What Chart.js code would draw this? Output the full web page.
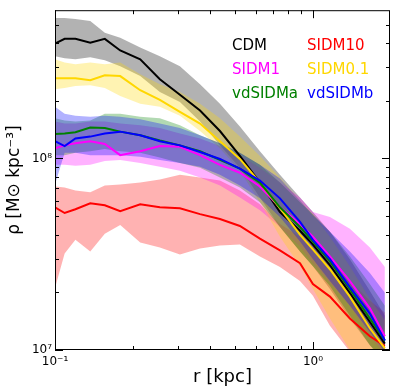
<!DOCTYPE html>
<html>
<head>
<meta charset="utf-8">
<script src="https://cdn.jsdelivr.net/npm/chart.js@4.4.1/dist/chart.umd.min.js"></script>
<style>
  html, body { margin: 0; padding: 0; background: #fff; }
</style>
</head>
<body>
<canvas id="profileChart" width="395" height="391"></canvas>
<script>
// radii (kpc), shared by every profile
const radii = [0.10, 0.109, 0.12, 0.137, 0.156, 0.179, 0.214, 0.255, 0.305, 0.365,
  0.436, 0.521, 0.623, 0.745, 0.891, 1.0, 1.164, 1.391, 1.663, 1.901];

// density profiles (Msun / kpc^3): median, upper and lower envelope
const cdmRho = [3.98e8, 4.21e8, 4.21e8, 4.02e8, 4.21e8, 3.66e8, 3.29e8, 2.59e8, 2.15e8, 1.78e8, 1.39e8, 1.03e8, 7.48e7, 5.25e7, 4.19e7, 3.55e7, 2.77e7, 1.98e7, 1.40e7, 1.08e7];
const cdmHi = [5.41e8, 5.41e8, 5.34e8, 5.22e8, 4.53e8, 4.26e8, 3.79e8, 3.41e8, 3.03e8, 2.44e8, 1.93e8, 1.47e8, 1.09e8, 8.22e7, 6.26e7, 5.25e7, 4.14e7, 2.98e7, 2.03e7, 1.51e7];
const cdmLo = [3.41e8, 3.33e8, 3.29e8, 3.37e8, 3.25e8, 3.03e8, 2.69e8, 2.22e8, 1.97e8, 1.56e8, 1.17e8, 8.94e7, 6.26e7, 4.39e7, 3.27e7, 2.74e7, 2.08e7, 1.46e7, 1.06e7, 8.9e6];

const sidm10Rho = [5.56e7, 5.19e7, 5.43e7, 5.83e7, 5.70e7, 5.31e7, 5.77e7, 5.56e7, 5.49e7, 5.12e7, 4.83e7, 4.44e7, 3.81e7, 3.31e7, 2.84e7, 2.21e7, 1.90e7, 1.46e7, 1.18e7, 1.05e7];
const sidm10Hi = [7.14e7, 7.05e7, 6.81e7, 6.65e7, 7.22e7, 7.31e7, 7.48e7, 7.76e7, 8.22e7, 7.94e7, 7.66e7, 6.81e7, 5.77e7, 4.55e7, 3.90e7, 3.47e7, 2.98e7, 2.29e7, 1.81e7, 1.57e7];
const sidm10Lo = [2.11e7, 3.19e7, 3.76e7, 3.27e7, 4.04e7, 4.49e7, 3.64e7, 3.43e7, 3.15e7, 3.39e7, 3.51e7, 3.55e7, 3.08e7, 2.71e7, 2.29e7, 1.92e7, 1.34e7, 9.8e6, 7.5e6, 6.3e6];

const sidm1Rho = [1.13e8, 1.17e8, 1.20e8, 1.23e8, 1.19e8, 1.04e8, 1.09e8, 1.16e8, 1.15e8, 1.04e8, 9.26e7, 8.42e7, 7.14e7, 5.56e7, 4.55e7, 3.90e7, 3.08e7, 2.29e7, 1.65e7, 1.18e7];
const sidm1Hi = [1.56e8, 1.52e8, 1.52e8, 1.56e8, 1.56e8, 1.52e8, 1.49e8, 1.44e8, 1.35e8, 1.27e8, 1.16e8, 1.04e8, 8.94e7, 7.48e7, 6.26e7, 5.25e7, 4.94e7, 4.29e7, 3.43e7, 2.71e7];
const sidm1Lo = [9.26e7, 9.26e7, 9.15e7, 9.26e7, 9.71e7, 9.82e7, 9.48e7, 9.04e7, 8.63e7, 7.94e7, 7.22e7, 6.26e7, 5.37e7, 4.39e7, 3.47e7, 2.84e7, 2.24e7, 1.70e7, 1.19e7, 9.4e6];

const sidm01Rho = [2.62e8, 2.62e8, 2.62e8, 2.56e8, 2.72e8, 2.69e8, 2.27e8, 2.02e8, 1.75e8, 1.52e8, 1.23e8, 9.94e7, 7.48e7, 5.50e7, 4.00e7, 3.35e7, 2.64e7, 1.90e7, 1.30e7, 1.02e7];
const sidm01Hi = [3.29e8, 3.17e8, 3.10e8, 3.17e8, 3.10e8, 3.17e8, 2.75e8, 2.44e8, 2.22e8, 1.93e8, 1.62e8, 1.30e8, 1.03e8, 7.94e7, 6.04e7, 5.12e7, 3.90e7, 2.74e7, 1.85e7, 1.43e7];
const sidm01Lo = [2.30e8, 2.33e8, 2.39e8, 2.41e8, 2.33e8, 2.12e8, 1.93e8, 1.86e8, 1.67e8, 1.39e8, 1.13e8, 8.63e7, 5.90e7, 3.90e7, 2.74e7, 2.08e7, 1.46e7, 1.00e7, 7.0e6, 5.5e6];

const vdaRho = [1.34e8, 1.35e8, 1.37e8, 1.45e8, 1.44e8, 1.38e8, 1.32e8, 1.24e8, 1.17e8, 1.09e8, 9.82e7, 8.84e7, 7.48e7, 5.56e7, 4.39e7, 3.68e7, 2.90e7, 2.08e7, 1.46e7, 1.12e7];
const vdaHi = [1.62e8, 1.58e8, 1.56e8, 1.58e8, 1.71e8, 1.71e8, 1.65e8, 1.62e8, 1.49e8, 1.32e8, 1.20e8, 1.07e8, 9.26e7, 7.48e7, 5.90e7, 5.12e7, 4.14e7, 3.08e7, 2.21e7, 1.70e7];
const vdaLo = [1.04e8, 1.04e8, 1.07e8, 1.09e8, 1.12e8, 1.09e8, 1.07e8, 1.01e8, 9.48e7, 8.94e7, 7.94e7, 7.05e7, 5.90e7, 4.39e7, 3.27e7, 2.74e7, 2.16e7, 1.51e7, 1.06e7, 8.4e6];

const vdbRho = [1.23e8, 1.16e8, 1.27e8, 1.30e8, 1.35e8, 1.38e8, 1.32e8, 1.23e8, 1.17e8, 1.08e8, 9.94e7, 8.84e7, 7.66e7, 6.19e7, 4.66e7, 3.76e7, 2.98e7, 2.13e7, 1.55e7, 1.12e7];
const vdbHi = [1.86e8, 1.71e8, 1.67e8, 1.65e8, 1.67e8, 1.65e8, 1.60e8, 1.52e8, 1.44e8, 1.32e8, 1.20e8, 1.07e8, 9.26e7, 7.85e7, 6.04e7, 5.05e7, 4.14e7, 3.27e7, 2.52e7, 1.99e7];
const vdbLo = [7.31e7, 1.07e8, 1.07e8, 1.04e8, 1.04e8, 1.04e8, 1.02e8, 9.82e7, 9.48e7, 9.04e7, 8.22e7, 7.22e7, 6.19e7, 4.94e7, 3.68e7, 2.98e7, 2.29e7, 1.70e7, 1.24e7, 9.8e6];

const seriesNames = ['CDM', 'SIDM10', 'SIDM1', 'SIDM0.1', 'vdSIDMa', 'vdSIDMb'];
const seriesColors = ['#000000', '#ff0000', '#ff00ff', '#ffd700', '#008000', '#0000ff'];
const seriesRho = [cdmRho, sidm10Rho, sidm1Rho, sidm01Rho, vdaRho, vdbRho];
const seriesHi = [cdmHi, sidm10Hi, sidm1Hi, sidm01Hi, vdaHi, vdbHi];
const seriesLo = [cdmLo, sidm10Lo, sidm1Lo, sidm01Lo, vdaLo, vdbLo];

// axis ticks
const xMajorTicks = [0.1, 1];
const xMinorTicks = [0.2, 0.3, 0.4, 0.5, 0.6, 0.7, 0.8, 0.9];
const yMajorTicks = [1e7, 1e8];
const yMinorTicks = [2e7, 3e7, 4e7, 5e7, 6e7, 7e7, 8e7, 9e7, 2e8, 3e8, 4e8, 5e8];

Chart.defaults.font.family = '"DejaVu Sans", sans-serif';
Chart.defaults.color = '#000';

const SUP = { '-': '⁻', '0': '⁰', '1': '¹', '2': '²', '3': '³', '4': '⁴', '5': '⁵', '6': '⁶', '7': '⁷', '8': '⁸', '9': '⁹' };

// 10^n labels only at whole decades
function decadeLabel(value) {
  const e = Math.log10(value);
  if (Math.abs(e - Math.round(e)) > 1e-6) return '';
  return '10' + String(Math.round(e)).split('').map(c => SUP[c]).join('');
}

function withAlpha(hex, a) {
  const n = parseInt(hex.slice(1), 16);
  return `rgba(${(n >> 16) & 255}, ${(n >> 8) & 255}, ${n & 255}, ${a})`;
}

const toPoints = arr => arr.map((v, i) => ({ x: radii[i], y: v }));

// band (hi filled to lo) + median line for every model
const datasets = [];
seriesNames.forEach((name, i) => {
  const band = withAlpha(seriesColors[i], 0.3);
  datasets.push({
    label: name + ' hi', data: toPoints(seriesHi[i]),
    borderWidth: 0, pointRadius: 0, backgroundColor: band,
    fill: '+1', order: 10 - i
  });
  datasets.push({
    label: name + ' lo', data: toPoints(seriesLo[i]),
    borderWidth: 0, pointRadius: 0, fill: false, order: 10 - i
  });
  datasets.push({
    label: name, data: toPoints(seriesRho[i]),
    borderColor: seriesColors[i], borderWidth: 2, pointRadius: 0,
    fill: false, order: -i
  });
});

// inward ticks on all four sides plus the frame
const frameTicks = {
  id: 'frameTicks',
  afterDraw(chart) {
    const { ctx, chartArea: a, scales: { x, y } } = chart;
    ctx.save();
    ctx.strokeStyle = '#000';
    ctx.lineWidth = 1;
    const seg = (x1, y1, x2, y2) => {
      ctx.beginPath(); ctx.moveTo(x1, y1); ctx.lineTo(x2, y2); ctx.stroke();
    };
    const xt = (v, len) => {
      const px = Math.round(x.getPixelForValue(v)) + 0.5;
      seg(px, a.bottom, px, a.bottom - len);
      seg(px, a.top, px, a.top + len);
    };
    const yt = (v, len) => {
      const py = Math.round(y.getPixelForValue(v)) + 0.5;
      seg(a.left, py, a.left + len, py);
      seg(a.right, py, a.right - len, py);
    };
    xMajorTicks.forEach(v => xt(v, 8));
    xMinorTicks.forEach(v => xt(v, 4));
    yMajorTicks.forEach(v => yt(v, 8));
    yMinorTicks.forEach(v => yt(v, 4));
    ctx.strokeRect(a.left + 0.5, a.top + 0.5, a.right - a.left - 1, a.bottom - a.top - 1);
    ctx.restore();
  }
};

// text-only legend, two columns
const textLegend = {
  id: 'textLegend',
  afterDraw(chart) {
    const { ctx, chartArea: a } = chart;
    ctx.save();
    ctx.font = '15px "DejaVu Sans"';
    ctx.textBaseline = 'alphabetic';
    seriesNames.forEach((name, i) => {
      ctx.fillStyle = seriesColors[i];
      ctx.fillText(name, a.left + 177 + (i % 2) * 75, a.top + 40 + Math.floor(i / 2) * 24);
    });
    ctx.restore();
  }
};

new Chart(document.getElementById('profileChart'), {
  type: 'line',
  data: { datasets },
  plugins: [frameTicks, textLegend],
  options: {
    responsive: false,
    animation: false,
    events: [],
    layout: { padding: { top: 5, right: 5, left: 0, bottom: 0 } },
    plugins: { legend: { display: false }, tooltip: { enabled: false } },
    elements: { line: { tension: 0 } },
    scales: {
      x: {
        type: 'logarithmic', min: 0.1, max: 1.99,
        grid: { display: false, drawTicks: false },
        border: { display: false },
        ticks: { autoSkip: false, maxRotation: 0, padding: 5, font: { size: 12 }, callback: decadeLabel },
        title: { display: true, text: 'r [kpc]', font: { size: 18 }, padding: { top: 0, bottom: 3 } },
        afterFit: s => { s.height = 41; }
      },
      y: {
        type: 'logarithmic', min: 1e7, max: 5.94e8,
        grid: { display: false, drawTicks: false },
        border: { display: false },
        ticks: { autoSkip: false, padding: 3, font: { size: 12 }, callback: decadeLabel },
        title: { display: true, text: 'ρ [M⊙ kpc⁻³]', font: { size: 17 }, padding: { top: 4, bottom: 0 } },
        afterFit: s => { s.width = 55; }
      }
    }
  }
});
</script>
</body>
</html>
